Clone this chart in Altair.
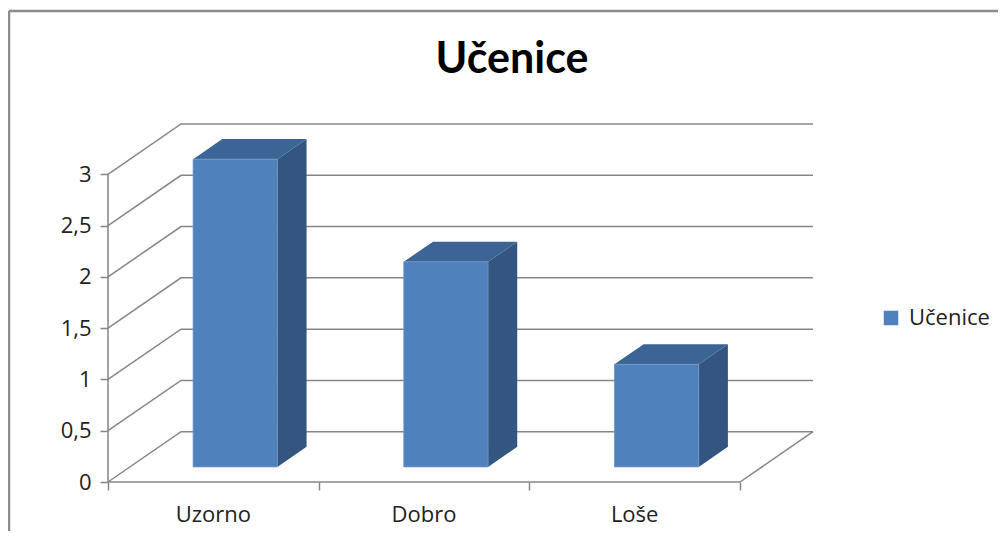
import altair as alt
import pandas as pd

# ---- data ----
categories = ["Uzorno", "Dobro", "Loše"]
values = [3, 2, 1]
series_name = "Učenice"
chart_title = "Učenice"
y_ticks = [0, 0.5, 1, 1.5, 2, 2.5, 3]
x_ticks = [0, 1, 2, 3]

# ---- 3D oblique projection settings (style) ----
DX = 0.3465      # depth shift of back wall, in category units
DY = 0.49        # depth shift of back wall, in value units
BAR_HALF = 0.2   # half bar width, category units
D0, D1 = 0.3, 0.7  # bar front/back depth fraction
N = len(categories)
YMAX = max(y_ticks)

GRID = "#868686"
FRONT = "#4F81BD"
SIDE = "#33557F"
TOP = "#3C6494"

# gridlines / walls / floor / axis line
line_rows = []
for k, v in enumerate(y_ticks):
    pts = [(0, v), (DX, v + DY), (N + DX, v + DY)]
    for o, (x, y) in enumerate(pts):
        line_rows.append({"path": f"g{k}", "order": o, "x": x, "y": y})
for pid, pts in {
    "front": [(0, 0), (N, 0)],
    "right": [(N, 0), (N + DX, DY)],
    "yaxis": [(0, 0), (0, YMAX)],
}.items():
    for o, (x, y) in enumerate(pts):
        line_rows.append({"path": pid, "order": o, "x": x, "y": y})
line_df = pd.DataFrame(line_rows)

front_rows, side_rows, top_rows, lab_rows = [], [], [], []
for i, (c, v) in enumerate(zip(categories, values)):
    xl = i + 0.5 - BAR_HALF
    xr = i + 0.5 + BAR_HALF
    front_rows.append({"cat": c, "series": series_name,
                       "x": xl + D0 * DX, "x2": xr + D0 * DX,
                       "y": D0 * DY, "y2": v + D0 * DY})
    for d in (D0, D1):
        side_rows.append({"cat": c, "x": xr + d * DX, "ylo": d * DY, "yhi": v + d * DY})
        top_rows.append({"cat": c, "y": v + d * DY, "xa": xl + d * DX, "xb": xr + d * DX})
    lab_rows.append({"cat": c, "xc": i + 0.5, "yb": 0})
front_df = pd.DataFrame(front_rows)
side_df = pd.DataFrame(side_rows)
top_df = pd.DataFrame(top_rows)
lab_df = pd.DataFrame(lab_rows)

xs = alt.Scale(domain=[0, N + DX], nice=False, zero=False)
ys = alt.Scale(domain=[0, YMAX + DY], nice=False, zero=False)

x_axis = alt.Axis(values=x_ticks, labels=False, ticks=True, tickSize=8,
                  tickColor=GRID, tickWidth=1.5, domain=False, grid=False, title=None)
y_axis = alt.Axis(values=y_ticks,
                  labelExpr="replace(toString(datum.value), '.', ',')",
                  tickSize=8, tickColor=GRID, tickWidth=1.5, domain=False,
                  grid=False, title=None, labelPadding=9, labelFont="Open Sans",
                  labelFontSize=22, labelColor="#222222")

lines = alt.Chart(line_df).mark_line(color=GRID, strokeWidth=1.5).encode(
    x=alt.X("x:Q", scale=xs, axis=x_axis),
    y=alt.Y("y:Q", scale=ys, axis=y_axis),
    detail="path:N",
    order="order:Q",
)

side = alt.Chart(side_df).mark_area(color=SIDE, orient="vertical").encode(
    x=alt.X("x:Q", scale=xs, axis=x_axis),
    y=alt.Y("ylo:Q", scale=ys, axis=y_axis),
    y2="yhi:Q",
    detail="cat:N",
)

top = alt.Chart(top_df).mark_area(color=TOP, orient="horizontal").encode(
    y=alt.Y("y:Q", scale=ys, axis=y_axis),
    x=alt.X("xa:Q", scale=xs, axis=x_axis),
    x2="xb:Q",
    detail="cat:N",
)

front = alt.Chart(front_df).mark_rect(stroke="#6f96c9", strokeWidth=0.8).encode(
    x=alt.X("x:Q", scale=xs, axis=x_axis),
    x2="x2:Q",
    y=alt.Y("y:Q", scale=ys, axis=y_axis),
    y2="y2:Q",
    color=alt.Color("series:N",
                    scale=alt.Scale(domain=[series_name], range=[FRONT]),
                    legend=alt.Legend(orient="none", legendX=772, legendY=183,
                                      title=None, symbolType="square",
                                      symbolSize=210, symbolStrokeWidth=0,
                                      labelFont="Open Sans", labelFontSize=22,
                                      labelColor="#222222", labelOffset=7,
                                      padding=0)),
)

labels = alt.Chart(lab_df).mark_text(baseline="alphabetic", dy=40,
                                     font="Open Sans", fontSize=22,
                                     color="#222222").encode(
    x=alt.X("xc:Q", scale=xs, axis=x_axis),
    y=alt.Y("yb:Q", scale=ys, axis=y_axis),
    text="cat:N",
)

frame_df = pd.DataFrame({"k": [0]})
frame_v = alt.Chart(frame_df).mark_rule(color="#8c8c8c", strokeWidth=2.5).encode(
    x=alt.value(-99), y=alt.value(-113), y2=alt.value(430))
frame_h = alt.Chart(frame_df).mark_rule(color="#8c8c8c", strokeWidth=2.5).encode(
    x=alt.value(-99), x2=alt.value(900), y=alt.value(-113))

title_df = pd.DataFrame({"t": [chart_title]})
title = alt.Chart(title_df).mark_text(font="Lato", fontSize=43, fontWeight="bold",
                                      color="#000000", baseline="alphabetic",
                                      align="center").encode(
    x=alt.value(404), y=alt.value(-51), text="t:N")

chart = alt.layer(frame_v, frame_h, lines, side, top, front, labels, title).properties(
    width=705,
    height=358,
    padding={"left": 100, "top": 116, "right": 185, "bottom": 49},
    autosize=alt.AutoSizeParams(type="none"),
).configure_view(stroke=None)

chart.save("out.html", embed_options={"renderer": "svg", "actions": False})
